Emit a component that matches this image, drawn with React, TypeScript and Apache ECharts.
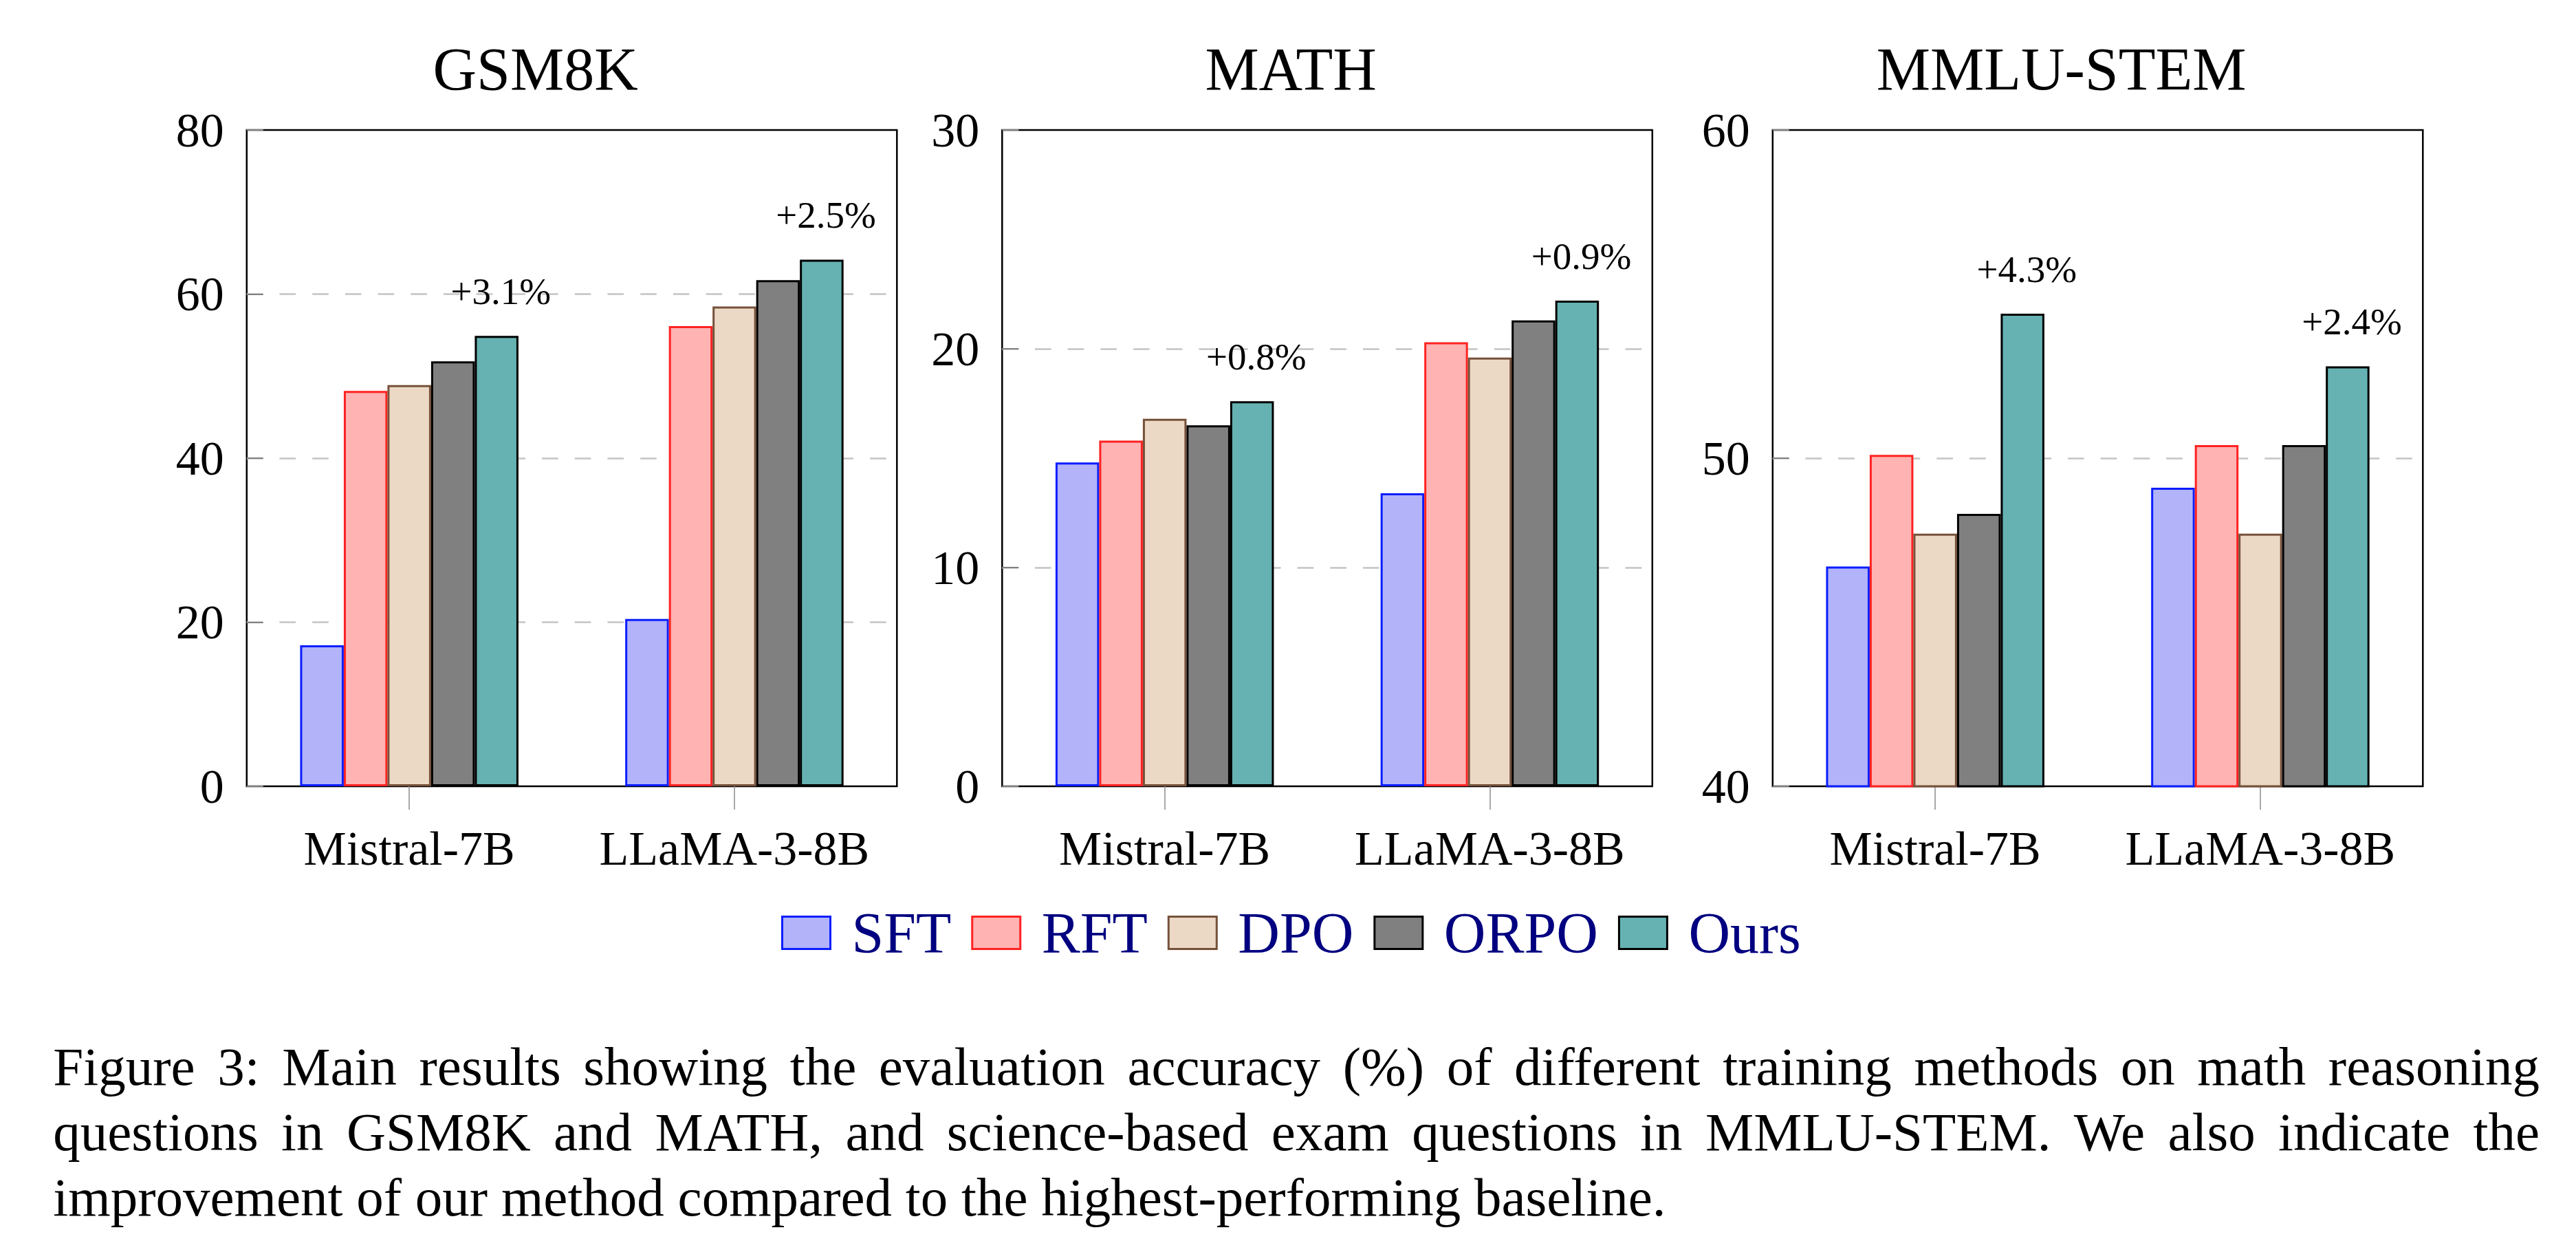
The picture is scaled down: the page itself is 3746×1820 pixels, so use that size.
import React, { useEffect, useRef } from 'react';
import * as echarts from 'echarts';

// ---------- data ----------
const categories = ['Mistral-7B', 'LLaMA-3-8B'];
const methods = ['SFT', 'RFT', 'DPO', 'ORPO', 'Ours'];
const panelTitles = ['GSM8K', 'MATH', 'MMLU-STEM'];

const gsm8kSFT = [17.2, 20.4];
const gsm8kRFT = [48.2, 56.1];
const gsm8kDPO = [48.9, 58.5];
const gsm8kORPO = [51.8, 61.7];
const gsm8kOurs = [54.9, 64.2];
const gsm8kGain = ['+3.1%', '+2.5%'];

const mathSFT = [14.8, 13.4];
const mathRFT = [15.8, 20.3];
const mathDPO = [16.8, 19.6];
const mathORPO = [16.5, 21.3];
const mathOurs = [17.6, 22.2];
const mathGain = ['+0.8%', '+0.9%'];

const mmluSFT = [46.7, 49.1];
const mmluRFT = [50.1, 50.4];
const mmluDPO = [47.7, 47.7];
const mmluORPO = [48.3, 50.4];
const mmluOurs = [54.4, 52.8];
const mmluGain = ['+4.3%', '+2.4%'];

const yMin = [0, 0, 40];
const yMax = [80, 30, 60];
const yInterval = [20, 10, 10];

const captionLines = [
  'Figure 3: Main results showing the evaluation accuracy (%) of different training methods on math reasoning',
  'questions in GSM8K and MATH, and science-based exam questions in MMLU-STEM. We also indicate the',
  'improvement of our method compared to the highest-performing baseline.',
];

// ---------- styles ----------
const FONT = 'Liberation Serif';
const fills = ['#b2b3f9', '#ffb3b3', '#ebd9c6', '#808080', '#66b2b2'];
const borders = ['#0a1eff', '#ff2222', '#76513a', '#000000', '#000000'];

const panelData = [
  [gsm8kSFT, gsm8kRFT, gsm8kDPO, gsm8kORPO, gsm8kOurs],
  [mathSFT, mathRFT, mathDPO, mathORPO, mathOurs],
  [mmluSFT, mmluRFT, mmluDPO, mmluORPO, mmluOurs],
];
const panelGain = [gsm8kGain, mathGain, mmluGain];

const gridLefts = [358.8, 1457.3, 2577.8];
const gridTop = 189;
const gridW = 945.5;
const gridH = 954;

function buildCaption(): any[] {
  const ctx = document.createElement('canvas').getContext('2d') as CanvasRenderingContext2D;
  const fs = 79;
  ctx.font = `${fs}px "${FONT}"`;
  const L = 77.3;
  const R = 3693;
  const ys = [1550, 1645, 1740];
  const out: any[] = [];
  captionLines.forEach((line, i) => {
    const y = ys[i];
    const base = { fontSize: fs, fontFamily: FONT, fill: '#000', align: 'left', verticalAlign: 'middle' };
    if (i === captionLines.length - 1) {
      out.push({ type: 'text', x: L, y, style: { ...base, text: line } });
      return;
    }
    const words = line.split(' ');
    const ws = words.map((w) => ctx.measureText(w).width);
    const total = ws.reduce((a, b) => a + b, 0);
    const gap = (R - L - total) / (words.length - 1);
    let x = L;
    words.forEach((w, j) => {
      out.push({ type: 'text', x, y, style: { ...base, text: w } });
      x += ws[j] + gap;
    });
  });
  return out;
}

export default function App() {
  const ref = useRef<HTMLDivElement>(null);
  useEffect(() => {
    if (!ref.current) return;
    const chart = echarts.init(ref.current, null, { renderer: 'svg' });

    const grids = gridLefts.map((left) => ({
      left,
      top: gridTop,
      width: gridW,
      height: gridH,
      show: true,
      borderColor: '#000',
      borderWidth: 2.5,
      backgroundColor: 'transparent',
    }));

    const xAxes = gridLefts.map((_, p) => ({
      gridIndex: p,
      type: 'category',
      data: categories,
      axisLine: { show: false },
      axisTick: {
        show: true,
        interval: 0,
        alignWithLabel: true,
        length: 34,
        lineStyle: { color: '#8c8c8c', width: 1.5 },
      },
      axisLabel: { interval: 0, fontSize: 70, fontFamily: FONT, color: '#000', margin: 55 },
      splitLine: { show: false },
    }));

    const yAxes = gridLefts.map((_, p) => ({
      gridIndex: p,
      type: 'value',
      min: yMin[p],
      max: yMax[p],
      interval: yInterval[p],
      axisLine: { show: false },
      axisTick: { show: true, inside: true, length: 24, lineStyle: { color: '#808080', width: 2 } },
      axisLabel: { fontSize: 70, fontFamily: FONT, color: '#000', margin: 33 },
      splitLine: {
        show: true,
        showMinLine: false,
        showMaxLine: false,
        lineStyle: { color: '#c4c4c4', width: 2.5, type: [23.6, 24.1] },
      },
    }));

    const series: any[] = [];
    panelData.forEach((pd, p) => {
      pd.forEach((vals, m) => {
        const s: any = {
          type: 'bar',
          name: methods[m],
          xAxisIndex: p,
          yAxisIndex: p,
          data: vals,
          barWidth: 63.5,
          barGap: '0%',
          itemStyle: { color: fills[m], borderColor: borders[m], borderWidth: 3 },
          emphasis: { disabled: true },
        };
        if (m === methods.length - 1) {
          const gains = panelGain[p];
          s.label = {
            show: true,
            position: 'top',
            distance: 37,
            offset: [6, 0],
            fontSize: 55,
            fontFamily: FONT,
            color: '#000',
            formatter: (q: any) => gains[q.dataIndex],
          };
        }
        series.push(s);
      });
    });

    const titles = panelTitles.map((t, p) => ({
      type: 'text',
      x: gridLefts[p] + gridW / 2 - 53,
      y: 100,
      style: { text: t, fontSize: 88, fontFamily: FONT, fill: '#000', align: 'center', verticalAlign: 'middle' },
    }));

    chart.setOption({
      animation: false,
      backgroundColor: '#fff',
      textStyle: { fontFamily: FONT },
      grid: grids,
      xAxis: xAxes,
      yAxis: yAxes,
      legend: {
        data: methods,
        left: 1136,
        top: 1314,
        padding: 0,
        icon: 'rect',
        itemWidth: 70,
        itemHeight: 47,
        itemGap: 29,
        itemStyle: { borderWidth: 3 },
        textStyle: { fontSize: 84, fontFamily: FONT, color: '#000080', padding: [0, 0, 0, 26] },
        selectedMode: false,
      },
      graphic: [...titles, ...buildCaption()],
      series,
    });
    return () => chart.dispose();
  }, []);
  return (
    <div
      ref={ref}
      style={{ position: 'absolute', left: 0, top: 0, width: 3746, height: 1820, background: '#fff' }}
    />
  );
}
